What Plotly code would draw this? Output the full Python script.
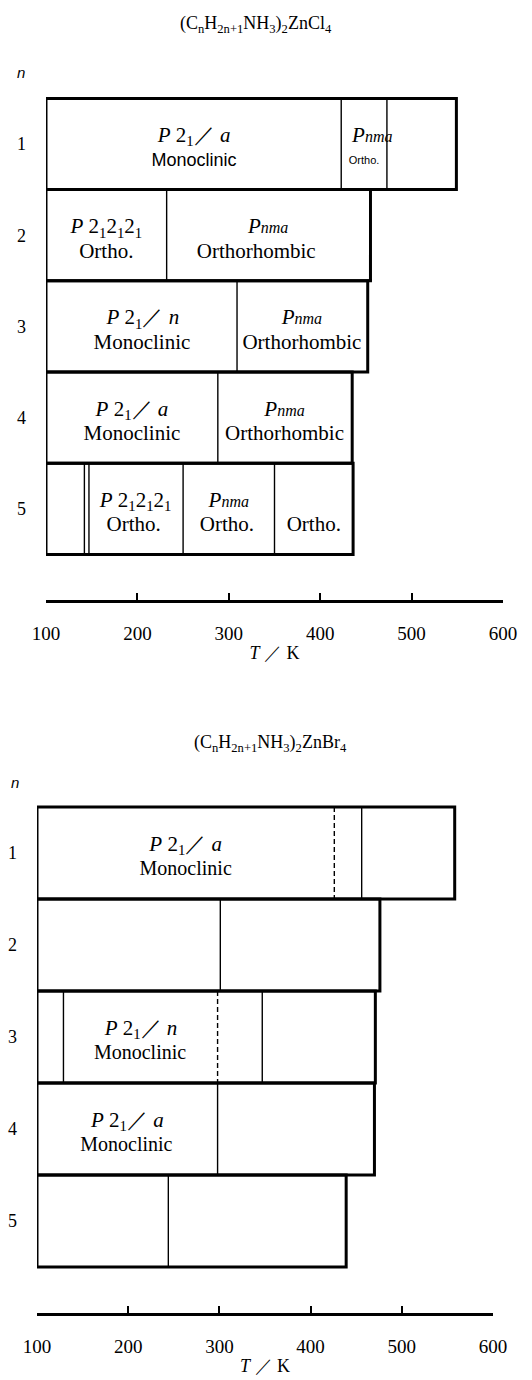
import plotly.graph_objects as go

# ---------------- data ----------------
T_TICKS = [100, 200, 300, 400, 500, 600]
ROW_N = [1, 2, 3, 4, 5]
ROW_TEXT = ["1", "2", "3", "4", "5"]

# (CnH2n+1NH3)2ZnCl4
CL_TITLE = "(C<sub>n</sub>H<sub>2n+1</sub>NH<sub>3</sub>)<sub>2</sub>ZnCl<sub>4</sub>"
CL_START_K = [100, 100, 100, 100, 100]
CL_END_K = [549, 455, 452, 435, 436]
CL_SOLID_K = [[423, 473], [232], [309], [288], [142, 147, 250, 350]]
CL_DASH_K = [[], [], [], [], []]
CL_SYM_ROW = [1, 1, 2, 2, 3, 3, 4, 4, 5, 5]
CL_SYM_K = [262, 457, 166, 343, 206, 380, 194, 361, 198, 300]
CL_SYM = ["P21/a", "Pnma", "P212121", "Pnma", "P21/n", "Pnma", "P21/a", "Pnma", "P212121", "Pnma"]
CL_SYS_ROW = [1, 1, 2, 2, 3, 3, 4, 4, 5, 5, 5]
CL_SYS_K = [262, 448, 166, 330, 205, 380, 194, 361, 196, 298, 393]
CL_SYS = ["Monoclinic", "Ortho.", "Ortho.", "Orthorhombic", "Monoclinic", "Orthorhombic",
          "Monoclinic", "Orthorhombic", "Ortho.", "Ortho.", "Ortho."]

# (CnH2n+1NH3)2ZnBr4
BR_TITLE = "(C<sub>n</sub>H<sub>2n+1</sub>NH<sub>3</sub>)<sub>2</sub>ZnBr<sub>4</sub>"
BR_START_K = [100, 100, 100, 100, 100]
BR_END_K = [558, 476, 471, 470, 439]
BR_SOLID_K = [[456], [301], [129, 347], [298], [244]]
BR_DASH_K = [[426], [], [298], [], []]
BR_SYM_ROW = [1, 3, 4]
BR_SYM_K = [263, 214, 199]
BR_SYM = ["P21/a", "P21/n", "P21/a"]
BR_SYS_ROW = [1, 3, 4]
BR_SYS_K = [263, 213, 198]
BR_SYS = ["Monoclinic", "Monoclinic", "Monoclinic"]

# ---------------- styling ----------------
SERIF = "Liberation Serif"
SANS = "Liberation Sans"
W, H = 532, 1380

SYMBOL_HTML = {
    "P21/a": "<i>P</i> 2<sub>1</sub>\uff0f <i>a</i>",
    "P21/n": "<i>P</i> 2<sub>1</sub>\uff0f <i>n</i>",
    "P212121": "<i>P</i> 2<sub>1</sub>2<sub>1</sub>2<sub>1</sub>",
    "Pnma": "<i>P</i><span style=\"font-size:16px\"><i>nma</i></span>",
}


def outline_xy(rows, starts, ends):
    xs, ys = [], []
    for r, s, e in zip(rows, starts, ends):
        xs += [s, e, e, s, s, None]
        ys += [r - 0.5, r - 0.5, r + 0.5, r + 0.5, r - 0.5, None]
    return xs, ys


def divider_xy(rows, temps):
    xs, ys = [], []
    for r, ts in zip(rows, temps):
        for t in ts:
            xs += [t, t, None]
            ys += [r - 0.5, r + 0.5, None]
    return xs, ys


fig = go.Figure()


def add_panel(xa, ya, starts, ends, solid, dashed, sym_row, sym_k, sym, sys_row, sys_k, sys,
              sys_family, sys_size, sym_size):
    ox, oy = outline_xy(ROW_N, starts, ends)
    fig.add_trace(go.Scatter(x=ox, y=oy, mode="lines", xaxis=xa, yaxis=ya,
                             line=dict(color="black", width=3), hoverinfo="skip", showlegend=False))
    sx, sy = divider_xy(ROW_N, solid)
    fig.add_trace(go.Scatter(x=sx, y=sy, mode="lines", xaxis=xa, yaxis=ya,
                             line=dict(color="black", width=1.4), hoverinfo="skip", showlegend=False))
    dx, dy = divider_xy(ROW_N, dashed)
    if dx:
        fig.add_trace(go.Scatter(x=dx, y=dy, mode="lines", xaxis=xa, yaxis=ya,
                                 line=dict(color="black", width=1.4, dash="5px,3px"),
                                 hoverinfo="skip", showlegend=False))
    fig.add_trace(go.Scatter(x=sym_k, y=[r - 0.08 for r in sym_row], mode="text",
                             text=[SYMBOL_HTML[s] for s in sym], xaxis=xa, yaxis=ya,
                             textposition="middle center",
                             textfont=dict(family=SERIF, size=sym_size, color="black"),
                             hoverinfo="skip", showlegend=False, cliponaxis=False))
    fig.add_trace(go.Scatter(x=sys_k, y=[r + 0.19 for r in sys_row], mode="text",
                             text=sys, xaxis=xa, yaxis=ya,
                             textposition="middle center",
                             textfont=dict(family=sys_family, size=sys_size, color="black"),
                             hoverinfo="skip", showlegend=False, cliponaxis=False))


cl_fam = [SANS, SANS] + [SERIF] * 9
cl_size = [18, 11] + [21] * 9
cl_sym_size = [21] * 10
add_panel("x", "y", CL_START_K, CL_END_K, CL_SOLID_K, CL_DASH_K,
          CL_SYM_ROW, CL_SYM_K, CL_SYM, CL_SYS_ROW, CL_SYS_K, CL_SYS,
          cl_fam, cl_size, cl_sym_size)
add_panel("x2", "y2", BR_START_K, BR_END_K, BR_SOLID_K, BR_DASH_K,
          BR_SYM_ROW, BR_SYM_K, BR_SYM, BR_SYS_ROW, BR_SYS_K, BR_SYS,
          [SERIF] * 3, [20] * 3, [21] * 3)


def xaxis_cfg(x0, x1, anchor):
    return dict(domain=[x0 / W, x1 / W], range=[100, 600], anchor=anchor,
                automargin=False,
                showline=True, linecolor="black", linewidth=2.5, mirror=False,
                ticks="inside", ticklen=7, tickwidth=1.5, tickcolor="black",
                tickvals=T_TICKS, ticktext=[str(t) for t in T_TICKS],
                tickfont=dict(family=SERIF, size=19, color="black"),
                ticklabelstandoff=14,
                showgrid=False, zeroline=False, fixedrange=True,
                title=dict(text="<i>T</i> \uff0f K", font=dict(family=SERIF, size=18, color="black"),
                           standoff=4))


def yaxis_cfg(px_bottom, px_top, anchor):
    return dict(domain=[1 - px_bottom / H, 1 - px_top / H], range=[6, 0], anchor=anchor,
                automargin=False,
                showline=False, showgrid=False, zeroline=False, fixedrange=True,
                tickvals=ROW_N, ticktext=ROW_TEXT, ticks="",
                tickfont=dict(family=SERIF, size=18, color="black"),
                ticklabelstandoff=19)


def label(text, px, py, family, size):
    return dict(text=text, x=px / W, y=1 - py / H, xref="paper", yref="paper",
                xanchor="center", yanchor="middle", showarrow=False,
                font=dict(family=family, size=size, color="black"))


fig.update_layout(
    width=W, height=H,
    margin=dict(l=0, r=0, t=0, b=0, pad=0, autoexpand=False),
    paper_bgcolor="white", plot_bgcolor="white",
    showlegend=False,
    xaxis=xaxis_cfg(46, 503, "y"),
    yaxis=yaxis_cfg(600, 600 - 6 * 91.2, "x"),
    xaxis2=xaxis_cfg(37, 493, "y2"),
    yaxis2=yaxis_cfg(1313, 1313 - 6 * 92.0, "x2"),
    annotations=[
        label(CL_TITLE, 256, 24, SERIF, 18),
        label(BR_TITLE, 270, 743, SERIF, 18),
        label("<i>n</i>", 21, 72, SANS, 15),
        label("<i>n</i>", 15, 782, SANS, 15),
    ],
)

fig.write_html("out.html", config={"displayModeBar": False},
               post_script="document.body.style.margin='0';document.body.style.overflow='hidden';")
